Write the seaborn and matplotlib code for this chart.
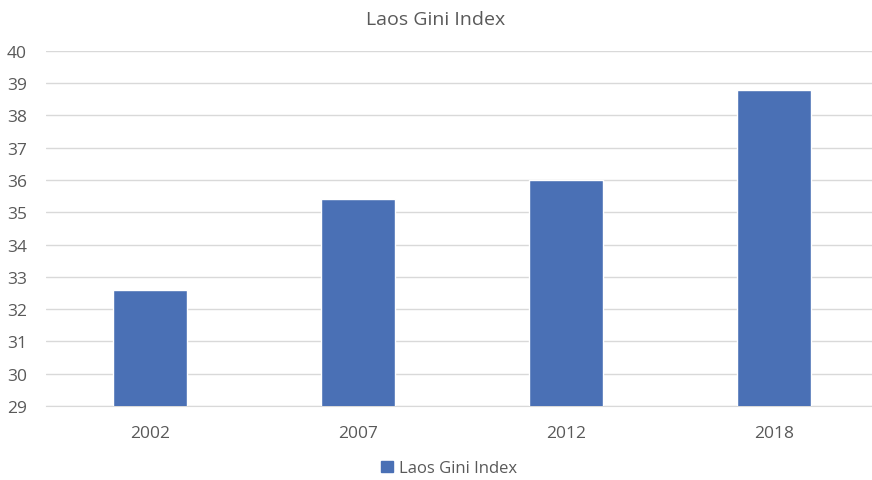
import matplotlib
matplotlib.use("Agg")
import matplotlib.pyplot as plt
import seaborn as sns
import pandas as pd
from matplotlib.patches import Patch

years = ["2002", "2007", "2012", "2018"]
gini = [32.6, 35.4, 36.0, 38.8]
series_name = "Laos Gini Index"
yticks = list(range(29, 41))

df = pd.DataFrame({"Year": years, "Gini": gini})

sns.set_style("white")
plt.rcParams['font.family'] = ['Open Sans', 'DejaVu Sans']

fig = plt.figure(figsize=(8.72, 4.81), dpi=100)
ax = fig.add_axes([0.053, 0.154, 0.954, 0.738])
color = "#4A70B5"
sns.barplot(data=df, x="Year", y="Gini", color=color, width=0.355,
            saturation=1, ax=ax, zorder=3)

ax.set_ylim(29, 40)
ax.set_yticks(yticks)
ax.grid(axis="y", color="#D9D9D9", linewidth=1, zorder=0)
ax.set_xlabel("")
ax.set_ylabel("")
for s in ["top", "right", "left"]:
    ax.spines[s].set_visible(False)
ax.spines["bottom"].set_color("#D9D9D9")
ax.tick_params(axis="both", length=0, labelsize=12.5, colors="#595959")
ax.tick_params(axis="x", pad=14)
ax.tick_params(axis="y", pad=14)

fig.text(0.5, 0.958, series_name, ha="center", va="center", fontsize=14, color="#595959")
handle = Patch(facecolor=color, edgecolor=color)
fig.legend([handle], [series_name], loc="center", bbox_to_anchor=(0.515, 0.024),
           frameon=False, fontsize=12, labelcolor="#595959", handlelength=0.7,
           handleheight=0.7, handletextpad=0.4)

fig.savefig("out.png", dpi=100)
